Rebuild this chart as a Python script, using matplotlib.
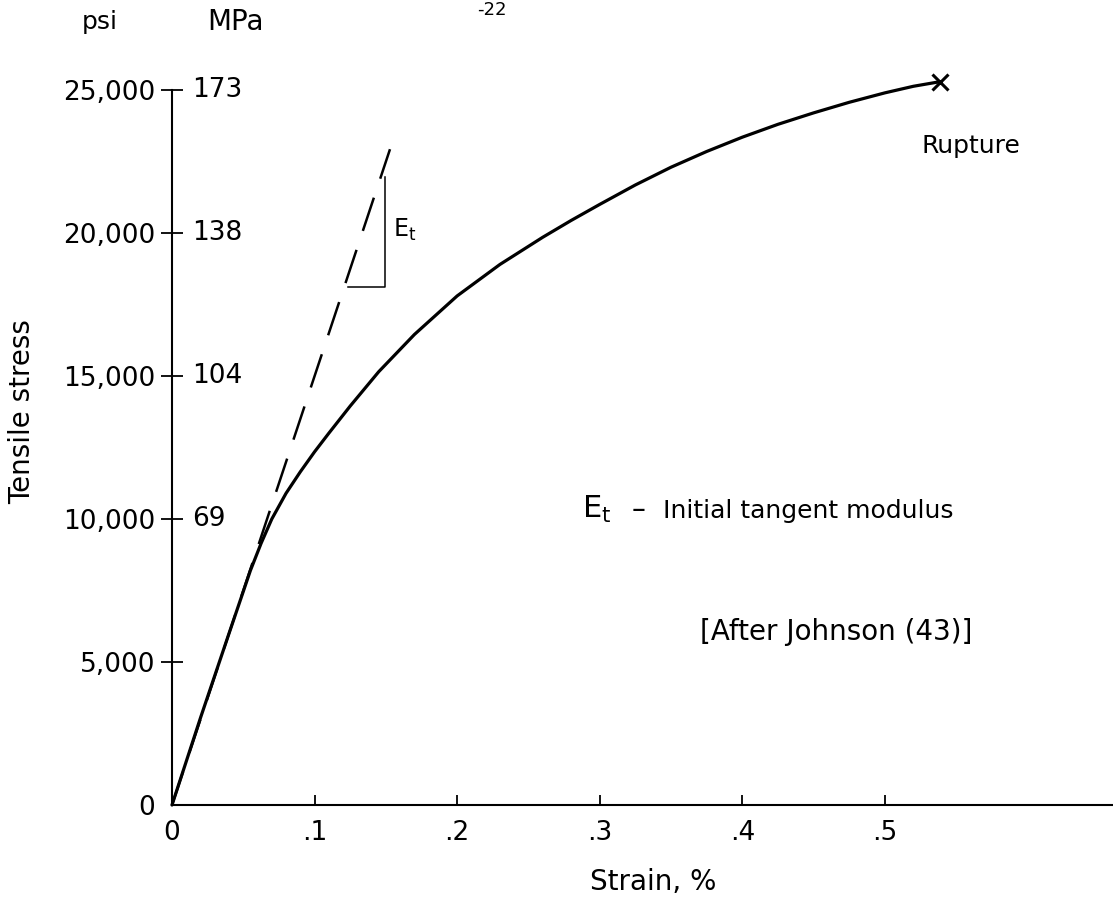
import numpy as np
import matplotlib
matplotlib.use("Agg")
import matplotlib.pyplot as plt

# Curva tensión-deformación
strain = [0, 0.02, 0.04, 0.055, 0.0625, 0.07, 0.08, 0.09, 0.10, 0.11,
          0.125, 0.145, 0.17, 0.20, 0.23, 0.26, 0.28, 0.30, 0.325, 0.35,
          0.375, 0.40, 0.425, 0.45, 0.475, 0.50, 0.52, 0.5386]
stress = [0, 3050, 6000, 8200, 9150, 10000, 10900, 11650, 12350, 13000,
          13950, 15150, 16450, 17800, 18900, 19850, 20440, 21000, 21680, 22300,
          22850, 23350, 23800, 24200, 24570, 24900, 25130, 25290]

# Tangente inicial (línea discontinua)
tangent_strain = [0.0, 0.1529]
tangent_stress = [0, 22930]

# Triángulo de pendiente
tri_strain = [0.1236, 0.1494, 0.1494]
tri_stress = [18120, 18120, 21970]

rupture_strain = 0.5386
rupture_stress = 25290

x_ticks = [0, 0.1, 0.2, 0.3, 0.4, 0.5]
x_labels = ["0", ".1", ".2", ".3", ".4", ".5"]
psi_ticks = [0, 5000, 10000, 15000, 20000, 25000]
psi_labels = ["0", "5,000", "10,000", "15,000", "20,000", "25,000"]
mpa_ticks = [10000, 15000, 20000, 25000]
mpa_labels = ["69", "104", "138", "173"]

plt.rcParams['font.family'] = ['DejaVu Sans']
FS = 19

fig = plt.figure(figsize=(11.13, 9.01), dpi=100)
ax = fig.add_axes([172 / 1113, 1 - 805 / 901, (1113 - 172) / 1113, (805 - 90) / 901])
ax.set_xlim(0, 0.66)
ax.set_ylim(0, 25000)

ax.plot(strain, stress, color='black', lw=2.3, solid_capstyle='round',
        solid_joinstyle='round', clip_on=False)
ax.plot(tangent_strain, tangent_stress, color='black', lw=1.8, dashes=(14, 8), clip_on=False)
ax.plot(tri_strain, tri_stress, color='black', lw=1.1)
ax.plot([rupture_strain], [rupture_stress], marker='x', color='black',
        markersize=11, mew=2.2, clip_on=False)

# Ejes
for s in ['top', 'right']:
    ax.spines[s].set_visible(False)
ax.spines['left'].set_linewidth(1.5)
ax.spines['bottom'].set_linewidth(1.5)

ax.set_xticks(x_ticks)
ax.set_xticklabels(x_labels, fontsize=FS)
ax.tick_params(axis='x', direction='in', length=7, width=1.3, pad=11)
ax.set_yticks(psi_ticks)
ax.set_yticklabels(psi_labels, fontsize=FS)
ax.tick_params(axis='y', direction='inout', length=16, width=1.3, pad=4)
ax.xaxis.get_major_ticks()[0].tick1line.set_visible(False)
ax.yaxis.get_major_ticks()[0].tick1line.set_visible(False)

# Etiquetas MPa a la derecha del eje
for v, lab in zip(mpa_ticks, mpa_labels):
    ax.text(0.0213, v, lab, transform=ax.get_yaxis_transform(),
            ha='left', va='center', fontsize=FS)

fig.text(100 / 1113, 1 - 22 / 901, "psi", ha='center', va='center', fontsize=18)
fig.text(236 / 1113, 1 - 22 / 901, "MPa", ha='center', va='center', fontsize=20)
fig.text(492 / 1113, 1 - 1 / 901, "-22", ha='center', va='top', fontsize=13)

fig.text(22 / 1113, 1 - 412 / 901, "Tensile stress", rotation=90,
         ha='center', va='center', fontsize=20)
fig.text(653 / 1113, 1 - 882 / 901, "Strain, %", ha='center', va='center', fontsize=20)

# Anotaciones
ax.text(0.155, 19860, r"$\mathregular{E_t}$", fontsize=17, ha='left', va='baseline')
ax.text(0.5603, 22800, "Rupture", fontsize=18, ha='center', va='baseline')
ax.text(0.2875, 10035, r"$\mathregular{E_t}$", fontsize=22, ha='left', va='baseline')
ax.text(0.3225, 10035, "–", fontsize=20, ha='left', va='baseline')
ax.text(0.3443, 10035, "Initial tangent modulus", fontsize=18, ha='left', va='baseline')
ax.text(0.4656, 6050, "[After Johnson (43)]", fontsize=20, ha='center', va='center')

fig.savefig("out.png", dpi=100, facecolor='white')
plt.close(fig)
